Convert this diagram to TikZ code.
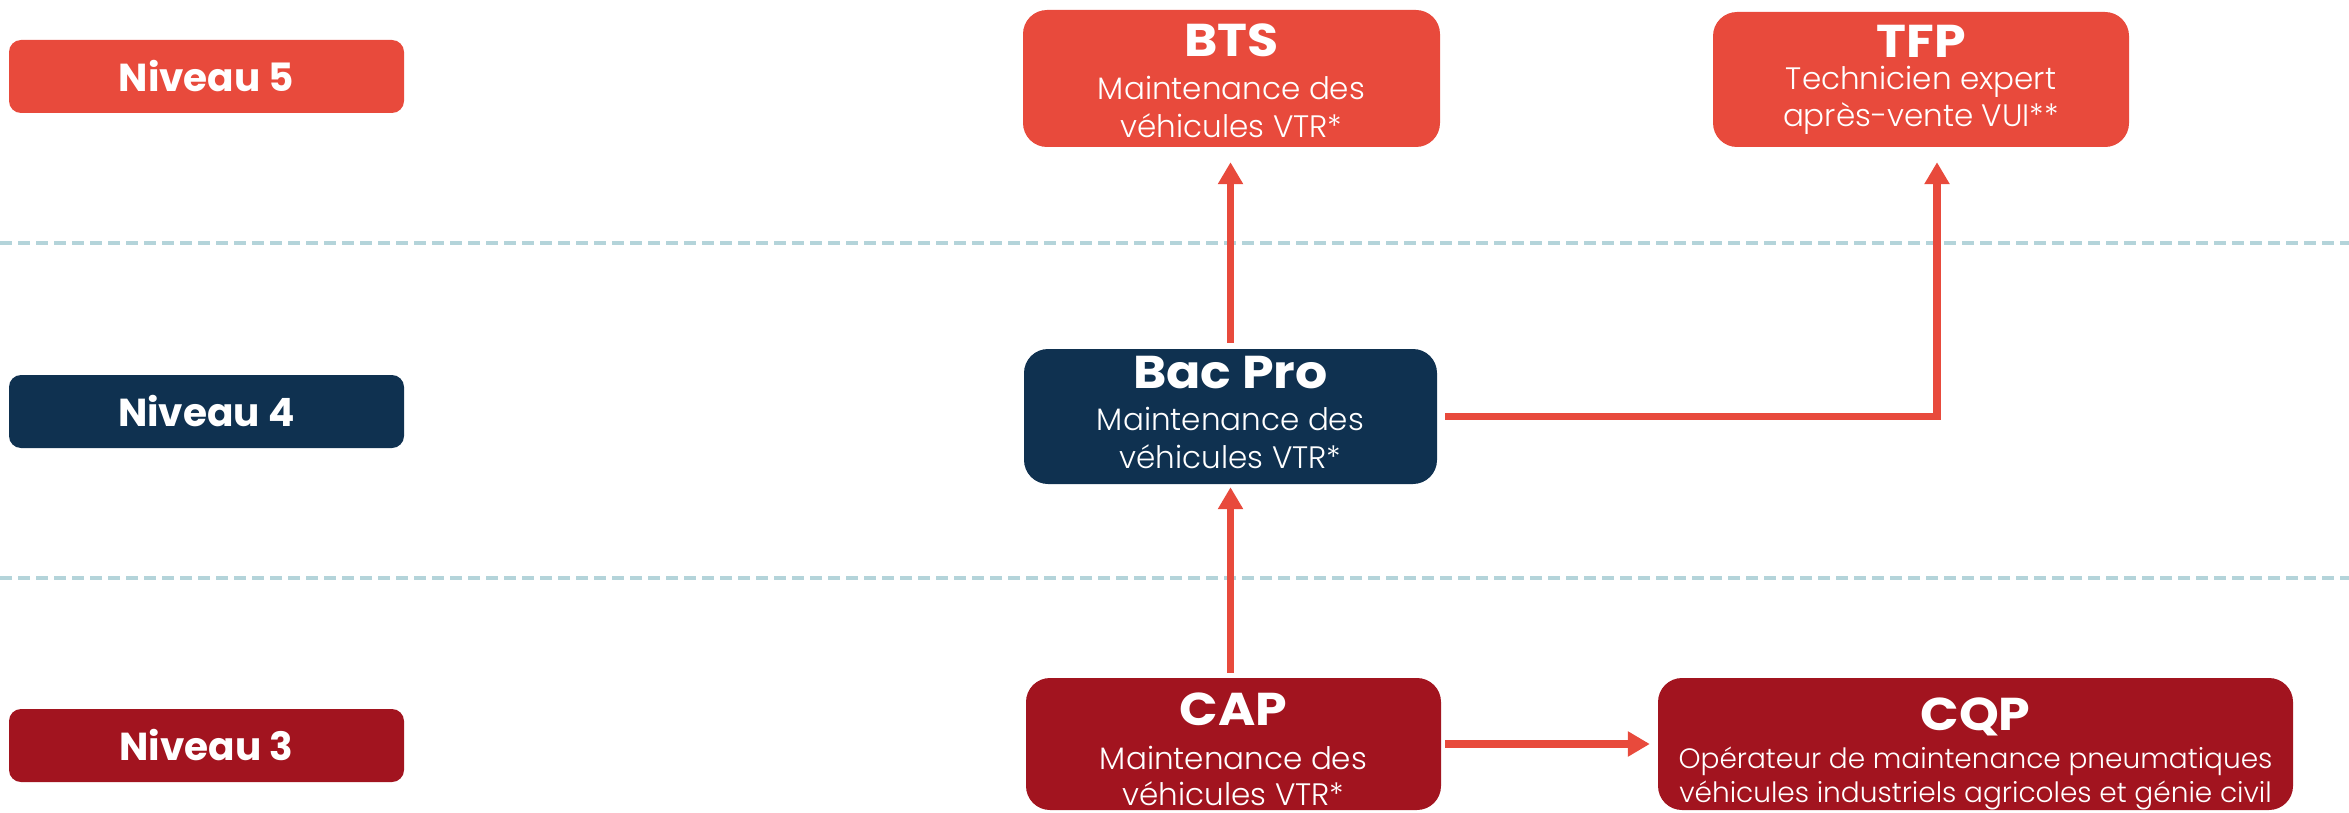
\documentclass[tikz,border=0pt]{standalone}
\usepackage{fontspec}
\setmainfont{Poppins}
\newfontfamily\lightfont{Poppins Light}
\newfontfamily\titlefont{Poppins}[FakeStretch=1.1, UprightFont=*-Bold]
\usetikzlibrary{arrows.meta}
\definecolor{lred}{HTML}{E84A3C}
\definecolor{navy}{HTML}{0F3150}
\definecolor{dred}{HTML}{A2141F}
\definecolor{dashc}{HTML}{B4D4DA}
\tikzset{
  box/.style={rectangle, rounded corners=24pt, inner sep=0pt, draw=none},
  lvl/.style={rectangle, rounded corners=12pt, inner sep=0pt, minimum width=395pt, minimum height=73pt, text=white, font=\fontsize{39}{39}\selectfont\bfseries},
  ttl/.style={anchor=base, text=white, inner sep=0pt, font=\titlefont\fontsize{46}{46}\selectfont},
  sub/.style={anchor=base, text=white, inner sep=0pt, font=\lightfont\fontsize{31}{31}\selectfont},
  subs/.style={anchor=base, text=white, inner sep=0pt, font=\lightfont\fontsize{28}{28}\selectfont},
  arr/.style={draw=lred, line width=7.5pt, -{Triangle[width=24pt,length=22pt]}},
  sep/.style={draw=dashc, line width=4pt, dash pattern=on 12pt off 6pt}
}
\begin{document}
\begin{tikzpicture}[x=1pt,y=-1pt]
\useasboundingbox (0,0) rectangle (2349,813);
% separators
\coordinate (s1a) at (0,243); \coordinate (s1b) at (2349,243);
\coordinate (s2a) at (0,578); \coordinate (s2b) at (2349,578);
\draw[sep] (s1a) -- (s1b);
\draw[sep] (s2a) -- (s2b);
% level labels
\node[lvl, fill=lred] (n5) at (206.5,76.5) {Niveau 5};
\node[lvl, fill=navy] (n4) at (206.5,411.5) {Niveau 4};
\node[lvl, fill=dred] (n3) at (206.5,745.5) {Niveau 3};
% boxes
\node[box, fill=lred, minimum width=417pt, minimum height=137pt] (bts) at (1231.5,78.5) {};
\node[box, fill=lred, minimum width=416pt, minimum height=135pt] (tfp) at (1921,79.5) {};
\node[box, fill=navy, minimum width=413pt, minimum height=135pt] (bac) at (1230.5,416.5) {};
\node[box, fill=dred, minimum width=415pt, minimum height=132pt] (cap) at (1233.5,744) {};
\node[box, fill=dred, minimum width=635pt, minimum height=132pt] (cqp) at (1975.5,744) {};
% texts
\node[ttl] (btsT) at (1231.5,57) {BTS};
\node[sub] (btsA) at (1231.5,100) {Maintenance des};
\node[sub] (btsB) at (1231.5,138) {véhicules VTR*};
\node[ttl] (tfpT) at (1921,58) {TFP};
\node[sub] (tfpA) at (1921,90) {Technicien expert};
\node[sub] (tfpB) at (1921,127) {après-vente VUI**};
\node[ttl] (bacT) at (1230.5,388) {Bac Pro};
\node[sub] (bacA) at (1230.5,430) {Maintenance des};
\node[sub] (bacB) at (1230.5,468) {véhicules VTR*};
\node[ttl] (capT) at (1233.5,725) {CAP};
\node[sub] (capA) at (1233.5,769) {Maintenance des};
\node[sub] (capB) at (1233.5,805) {véhicules VTR*};
\node[ttl] (cqpT) at (1975.5,730) {CQP};
\node[subs] (cqpA) at (1975.5,768) {Opérateur de maintenance pneumatiques};
\node[subs] (cqpB) at (1975.5,802) {véhicules industriels agricoles et génie civil};
% connectors
\draw[arr] ([yshift=6pt]bac.north) -- ([yshift=-15pt]bac.north |- bts.south);
\draw[arr] ([xshift=8pt]bac.east) -| ([xshift=16pt,yshift=-15pt]tfp.south);
\draw[arr] ([yshift=5pt]bac.north |- cap.north) -- ([yshift=-3pt]bac.south);
\draw[arr] ([xshift=4pt]cap.east) -- ([xshift=-8pt]cqp.west);
\end{tikzpicture}
\end{document}
